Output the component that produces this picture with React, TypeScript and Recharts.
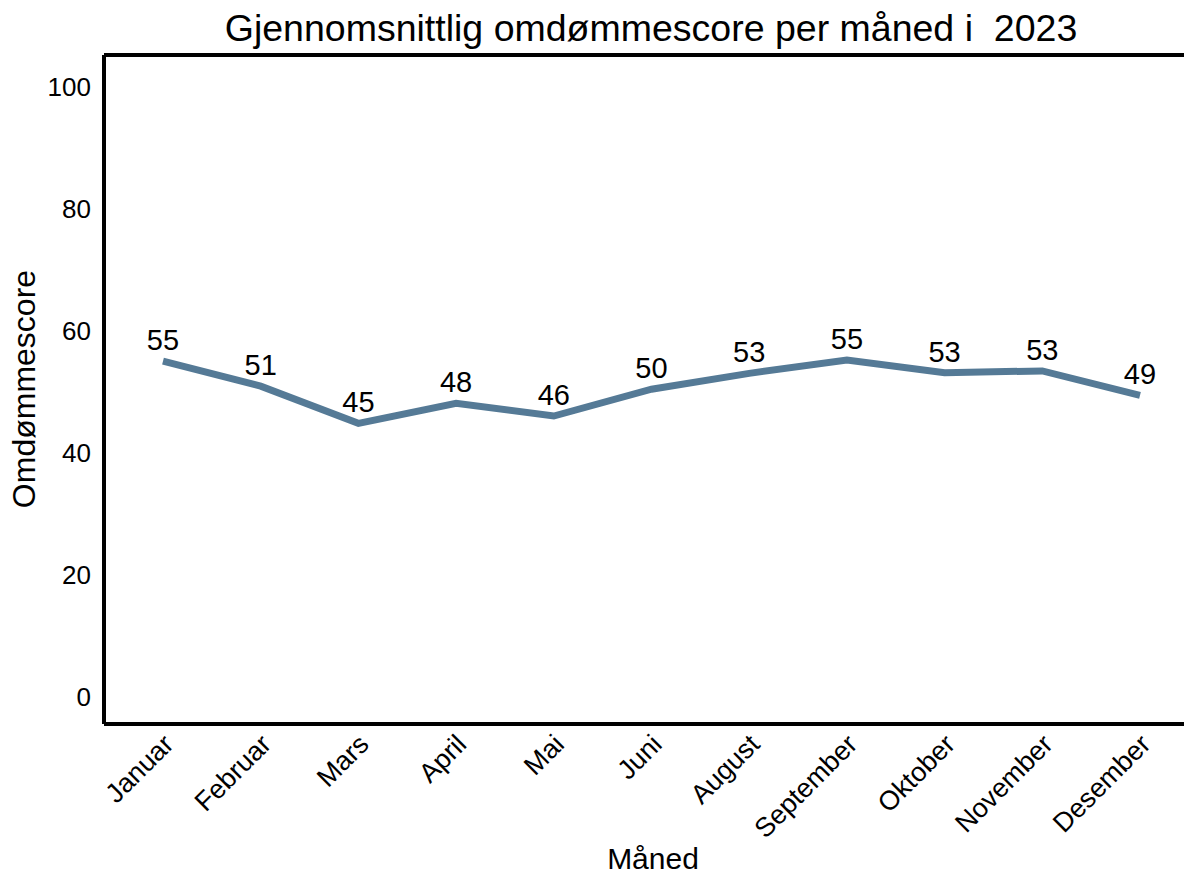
import React from 'react';
import { LineChart, Line, XAxis, YAxis, LabelList, Label, ReferenceLine } from 'recharts';

const MONTHS = [
  'Januar',
  'Februar',
  'Mars',
  'April',
  'Mai',
  'Juni',
  'August',
  'September',
  'Oktober',
  'November',
  'Desember',
];
const SCORES = [55.0, 50.9, 44.8, 48.1, 46.0, 50.4, 53.0, 55.2, 53.1, 53.4, 49.4];
const Y_TICKS = [0, 20, 40, 60, 80, 100];
const Y_MIN = -4.5;
const Y_MAX = 105.2;

const FONT = '"Liberation Sans", Arial, Helvetica, sans-serif';
const LINE_COLOR = '#557a96';

const data = MONTHS.map((m, i) => ({ month: m, score: SCORES[i] }));

const MonthTick = (props: any) => {
  const { x, y, payload } = props;
  const ax = x + 12;
  const ay = y + 22;
  return (
    <text
      x={ax}
      y={ay}
      transform={`rotate(-45, ${ax}, ${ay})`}
      textAnchor="end"
      fontSize={27}
      fontFamily={FONT}
      fill="#000"
    >
      {payload.value}
    </text>
  );
};

const ValueLabel = (props: any) => {
  const { x, y, value } = props;
  return (
    <text x={x} y={y - 11} textAnchor="middle" fontSize={29} fontFamily={FONT} fill="#000">
      {Math.round(value)}
    </text>
  );
};

const App: React.FC = () => {
  return (
    <div style={{ position: 'absolute', left: 0, top: 0, width: 1184, height: 876, background: '#fff' }}>
      <LineChart width={1184} height={876} data={data} margin={{ top: 55, right: 0, left: 0, bottom: 0 }}>
        <text x={651} y={41} textAnchor="middle" fontSize={37.5} fontFamily={FONT} fill="#000" style={{ whiteSpace: 'pre' }}>
          {'Gjennomsnittlig omdømmescore per måned i  2023'}
        </text>
        <XAxis
          dataKey="month"
          height={152}
          padding={{ left: 59, right: 44 }}
          axisLine={{ stroke: '#000', strokeWidth: 4 }}
          tickLine={false}
          tickSize={0}
          tickMargin={0}
          interval={0}
          tick={<MonthTick />}
        >
          <Label
            content={() => (
              <text x={653} y={869} textAnchor="middle" fontSize={30} fontFamily={FONT} fill="#000">
                Måned
              </text>
            )}
          />
        </XAxis>
        <YAxis
          type="number"
          domain={[Y_MIN, Y_MAX]}
          ticks={Y_TICKS}
          width={104}
          axisLine={{ stroke: '#000', strokeWidth: 4 }}
          tickLine={false}
          tickSize={0}
          tickMargin={13}
          tick={{ fontSize: 26, fontFamily: FONT, fill: '#000' }}
        >
          <Label
            content={() => (
              <text
                x={35}
                y={389}
                transform="rotate(-90, 35, 389)"
                textAnchor="middle"
                fontSize={32}
                fontFamily={FONT}
                fill="#000"
              >
                Omdømmescore
              </text>
            )}
          />
        </YAxis>
        <ReferenceLine y={Y_MAX} stroke="#000" strokeWidth={4} ifOverflow="visible" />
        <Line
          type="linear"
          dataKey="score"
          stroke={LINE_COLOR}
          strokeWidth={7}
          dot={false}
          activeDot={false}
          isAnimationActive={false}
        >
          <LabelList dataKey="score" content={<ValueLabel />} />
        </Line>
      </LineChart>
    </div>
  );
};

export default App;
